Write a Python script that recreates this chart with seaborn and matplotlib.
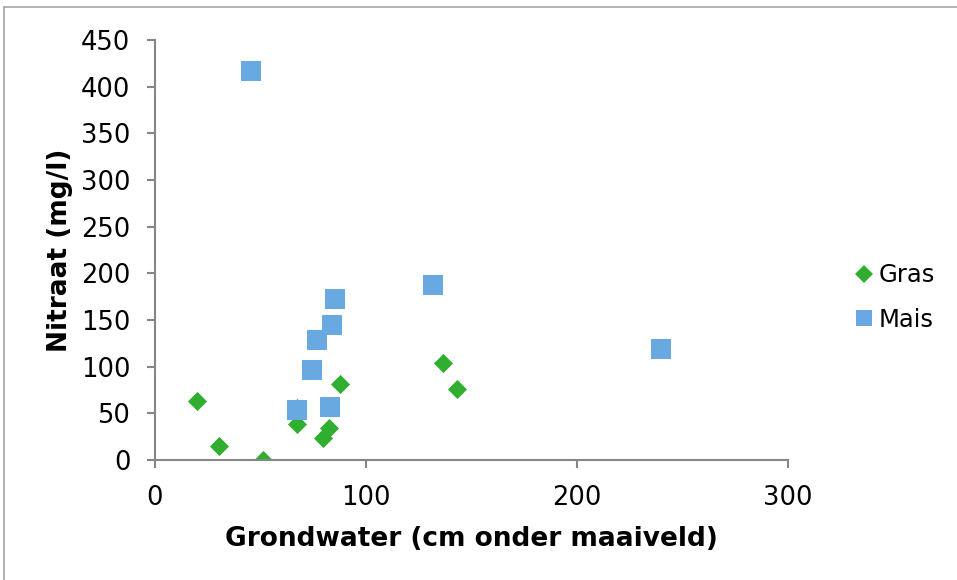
import matplotlib
matplotlib.use("Agg")
import matplotlib.pyplot as plt
import seaborn as sns
import pandas as pd
from matplotlib.lines import Line2D

# Data
gras_x = [19.8, 30.2, 51.4, 67.4, 67.4, 82.3, 79.7, 87.8, 136.5, 142.9]
gras_y = [62.9, 15.0, 0.5, 38.2, 55.5, 34.0, 23.2, 81.8, 103.9, 76.4]
mais_x = [45.7, 85.4, 83.9, 76.9, 74.4, 67.4, 82.9, 131.9, 240.0]
mais_y = [417.0, 172.0, 144.6, 128.6, 96.8, 53.6, 56.4, 187.5, 118.6]
series = ["Gras", "Mais"]
x_ticks = [0, 100, 200, 300]
y_ticks = [0, 50, 100, 150, 200, 250, 300, 350, 400, 450]

df = pd.DataFrame({
    "x": gras_x + mais_x,
    "y": gras_y + mais_y,
    "soort": [series[0]] * len(gras_x) + [series[1]] * len(mais_x),
})

sns.set_theme(style="white")
plt.rcParams["font.family"] = ["DejaVu Sans"]
plt.rcParams["text.color"] = "black"
plt.rcParams["axes.labelcolor"] = "black"

green = "#30AE30"
blue = "#69A9E1"
axis_col = "#868686"

fig = plt.figure(figsize=(9.57, 5.8), dpi=100)
ax = fig.add_axes([155 / 957, 1 - 460 / 580, (788 - 155) / 957, (460 - 40) / 580])

sns.scatterplot(data=df[df.soort == "Mais"], x="x", y="y", ax=ax, color=blue,
                marker="s", s=200, linewidth=0, legend=False, zorder=3)
sns.scatterplot(data=df[df.soort == "Gras"], x="x", y="y", ax=ax, color=green,
                marker="D", s=95, linewidth=0, legend=False, zorder=2)

ax.set_xlim(0, 300)
ax.set_ylim(0, 450)
ax.set_xticks(x_ticks)
ax.set_yticks(y_ticks)
ax.set_xticklabels([str(t) for t in x_ticks])
ax.set_yticklabels([str(t) for t in y_ticks])

for side in ["top", "right"]:
    ax.spines[side].set_visible(False)
for side in ["left", "bottom"]:
    ax.spines[side].set_color(axis_col)
    ax.spines[side].set_linewidth(1.5)
ax.tick_params(axis="both", which="both", direction="out", length=5.8, width=1.5,
               color=axis_col, labelsize=18.5, labelcolor="black", pad=12,
               bottom=True, left=True, top=False, right=False)

ax.set_xlabel("Grondwater (cm onder maaiveld)", fontsize=19, fontweight="bold",
              va="center")
ax.set_ylabel("Nitraat (mg/l)", fontsize=19, fontweight="bold", va="center")
ax.xaxis.set_label_coords(0.5, (460 - 539) / 420)
ax.yaxis.set_label_coords((60 - 155) / 633, 0.5)

handles = [
    Line2D([], [], marker="D", color=green, linestyle="none", markersize=8.7,
           markeredgewidth=0),
    Line2D([], [], marker="s", color=blue, linestyle="none", markersize=12.2,
           markeredgewidth=0),
]
leg = fig.legend(handles, series, loc="center left",
                 bbox_to_anchor=(857 / 957, 1 - 297.5 / 580), frameon=False,
                 fontsize=17.5, handlelength=0.6, handletextpad=0.3,
                 labelspacing=0.85, borderaxespad=0, borderpad=0)

# chart border (top and left visible in reference)
fig.add_artist(Line2D([4 / 957, 4 / 957], [0, 1 - 7 / 580],
                      transform=fig.transFigure, color="#A6A6A6", linewidth=1.2))
fig.add_artist(Line2D([4 / 957, 1], [1 - 7 / 580, 1 - 7 / 580],
                      transform=fig.transFigure, color="#A6A6A6", linewidth=1.2))

fig.savefig("out.png", dpi=100, facecolor="white")
